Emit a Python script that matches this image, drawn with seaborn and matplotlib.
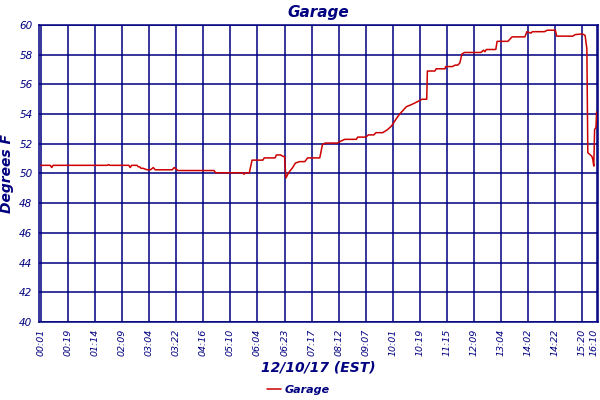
import numpy as np
import pandas as pd
import matplotlib
matplotlib.use("Agg")
import matplotlib.pyplot as plt
import matplotlib.transforms as mtransforms
import seaborn as sns

# sample index along the log (readings are not evenly spaced in time)
sample = [0, 7, 8, 9, 49, 50, 51, 65, 66, 67, 71, 72, 73, 74, 75.5, 78.5, 81, 83, 84.5,
          97, 98.5, 100, 101, 128, 129, 149, 150, 151, 154, 156, 164, 165, 173, 174, 177,
          179, 180, 181, 183, 186, 188, 191, 195, 197, 206, 208, 210, 219, 222, 224.5,
          233, 234, 240, 242, 246, 247.5, 252.5, 256, 259, 263, 265, 270, 274, 278.5,
          281.5, 285, 285.5, 291, 292, 298.5, 299, 304, 306, 308, 309.5, 311, 313, 325,
          327, 328, 329, 336, 337, 345, 346.5, 348, 357.5, 359, 362, 363, 372, 374, 380,
          381, 393, 394.5, 400, 402, 403.3, 404, 405.3, 407, 407.7, 408.4, 409, 410, 410.5]
temp_f = [50.55, 50.55, 50.4, 50.55, 50.55, 50.6, 50.55, 50.55, 50.4, 50.55, 50.55, 50.45,
          50.45, 50.35, 50.35, 50.25, 50.25, 50.4, 50.25,
          50.25, 50.4, 50.3, 50.2, 50.2, 50.05, 50.05, 49.95, 50.05, 50.05, 50.9, 50.9, 51.05,
          51.05, 51.25, 51.25,
          51.15, 51.15, 49.7, 50.05, 50.4, 50.7, 50.8, 50.8, 51.05, 51.05, 51.95, 52.05, 52.05,
          52.2, 52.3,
          52.3, 52.45, 52.45, 52.6, 52.6, 52.75, 52.75, 52.95, 53.2, 53.75, 54.0, 54.5, 54.65,
          54.85,
          55.0, 55.0, 56.9, 56.9, 57.05, 57.05, 57.2, 57.2, 57.3, 57.3, 57.45, 58.05, 58.15,
          58.15,
          58.3, 58.2, 58.35, 58.35, 58.9, 58.9, 59.05, 59.2, 59.2, 59.55, 59.45, 59.55, 59.55,
          59.65, 59.65,
          59.25, 59.25, 59.35, 59.4, 59.3, 58.4, 51.4, 51.3, 51.15, 50.95, 50.5, 52.95, 53.1,
          54.15]

tick_pos = [0, 20, 40, 60, 80, 100, 120, 140, 160, 180, 200, 220, 240, 260, 280, 300,
            320, 340, 360, 380, 400, 410.5]
tick_labels = ["00:01", "00:19", "01:14", "02:09", "03:04", "03:22", "04:16", "05:10",
               "06:04", "06:23", "07:17", "08:12", "09:07", "10:01", "10:19", "11:15",
               "12:09", "13:04", "14:02", "14:22", "15:20", "16:10"]
y_ticks = [40, 42, 44, 46, 48, 50, 52, 54, 56, 58, 60]

navy = "#000080"
red = "#cc0000"

df = pd.DataFrame({"sample": sample, "temp": temp_f})

sns.set_style("white")
plt.rcParams["font.family"] = ["DejaVu Sans"]

fig = plt.figure(figsize=(6, 4), dpi=100)
ax = fig.add_axes([39.5 / 600, 1 - 322 / 400, (597.7 - 39.5) / 600, (322 - 25) / 400])

sns.lineplot(data=df, x="sample", y="temp", sort=False, estimator=None,
             color=red, linewidth=1.1, ax=ax, label="Garage", legend=False)

ax.set_xlim(-1, 411.3)
ax.set_ylim(40, 60)
ax.set_xticks(tick_pos)
ax.set_xticklabels(tick_labels, rotation=90, fontsize=6.8, style="italic", color=navy)
ax.set_yticks(y_ticks)
ax.set_yticklabels([str(v) for v in y_ticks], fontsize=7.5, style="italic", color=navy)
ax.tick_params(length=0, pad=5)
ax.grid(True, color=navy, linewidth=1.1)
ax.set_axisbelow(True)
for s in ax.spines.values():
    s.set_color(navy)
    s.set_linewidth(1.1)

# keep the last time label inside the picture
last = ax.get_xticklabels()[-1]
last.set_transform(last.get_transform() +
                   mtransforms.ScaledTranslation(-3 / 100, 0, fig.dpi_scale_trans))

ax.set_xlabel("12/10/17 (EST)", fontsize=10, fontweight="bold", style="italic",
              color=navy, labelpad=3)
ax.set_ylabel("Degrees F", fontsize=10, fontweight="bold", style="italic", color=navy,
              labelpad=4)
ax.set_title("Garage", fontsize=11, fontweight="bold", style="italic", color=navy, pad=6)

leg = fig.legend(loc="center", bbox_to_anchor=(298 / 600, 1 - 390 / 400), frameon=False,
                 fontsize=8, handlelength=1.3, handletextpad=0.3)
for t in leg.get_texts():
    t.set_color(navy)
    t.set_fontstyle("italic")
    t.set_fontweight("bold")

fig.savefig("out.png", dpi=100)
